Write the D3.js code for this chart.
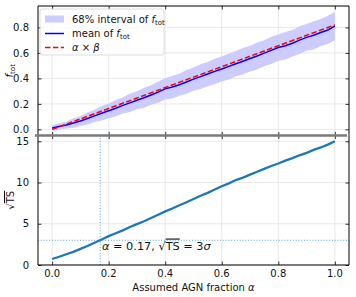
<!DOCTYPE html>
<html>
<head>
<meta charset="utf-8">
<script src="https://cdn.jsdelivr.net/npm/d3@7"></script>
<style>
  body { margin: 0; background: #fff; }
  svg { display: block; font-family: "DejaVu Sans", sans-serif; }
</style>
</head>
<body>
<div id="chart"></div>
<script>
"use strict";

// assumed AGN fraction alpha
const alphaVals = [0, 0.025, 0.05, 0.075, 0.1, 0.125, 0.15, 0.175, 0.2, 0.225, 0.25, 0.275, 0.3, 0.325, 0.35, 0.375,
  0.4, 0.425, 0.45, 0.475, 0.5, 0.525, 0.55, 0.575, 0.6, 0.625, 0.65, 0.675, 0.7, 0.725, 0.75, 0.775,
  0.8, 0.825, 0.85, 0.875, 0.9, 0.925, 0.95, 0.975, 1.0];
// mean of f_tot
const meanF = [0.010, 0.022, 0.034, 0.050, 0.066, 0.086, 0.106, 0.126, 0.146, 0.166, 0.188, 0.208, 0.228, 0.248, 0.270, 0.292,
  0.318, 0.332, 0.350, 0.372, 0.394, 0.414, 0.434, 0.455, 0.474, 0.494, 0.515, 0.535, 0.556, 0.576, 0.598, 0.620,
  0.642, 0.656, 0.676, 0.700, 0.722, 0.738, 0.760, 0.780, 0.810];
// 68% interval
const bandLo = [-0.010, -0.003, 0.006, 0.013, 0.027, 0.039, 0.057, 0.069, 0.088, 0.101, 0.124, 0.136, 0.157, 0.170, 0.193, 0.208,
  0.235, 0.243, 0.263, 0.279, 0.303, 0.317, 0.339, 0.355, 0.376, 0.392, 0.416, 0.431, 0.455, 0.470, 0.496, 0.513,
  0.539, 0.548, 0.572, 0.591, 0.617, 0.628, 0.654, 0.669, 0.700];
const bandHi = [0.030, 0.049, 0.062, 0.087, 0.104, 0.133, 0.154, 0.183, 0.204, 0.231, 0.252, 0.280, 0.299, 0.326, 0.347, 0.376,
  0.401, 0.421, 0.437, 0.465, 0.485, 0.511, 0.529, 0.555, 0.572, 0.596, 0.614, 0.639, 0.657, 0.682, 0.700, 0.727,
  0.745, 0.764, 0.780, 0.809, 0.827, 0.848, 0.866, 0.891, 0.920];
// alpha x beta
const lineAlpha = [0, 0.1, 0.2, 0.3, 0.4, 0.5, 0.6, 0.7, 0.8, 0.9, 1.0];
const alphaBeta = [0, 0.082, 0.164, 0.246, 0.328, 0.41, 0.492, 0.574, 0.656, 0.738, 0.82];
// sqrt(TS)
const sqrtTS = [0.73, 1.0, 1.3, 1.6, 1.95, 2.3, 2.7, 3.1, 3.5, 3.85, 4.2, 4.6, 4.95, 5.3, 5.7, 6.1,
  6.5, 6.85, 7.25, 7.6, 8.0, 8.4, 8.75, 9.15, 9.55, 9.9, 10.3, 10.6, 10.95, 11.3, 11.65, 12.0,
  12.3, 12.65, 12.95, 13.3, 13.6, 13.95, 14.25, 14.6, 15.0];

const xTicks = [0, 0.2, 0.4, 0.6, 0.8, 1.0];
const fTicks = [0, 0.2, 0.4, 0.6, 0.8];
const tsTicks = [0, 5, 10, 15];
const alphaCut = 0.17;
const tsCut = 3;

const width = 356, height = 297;
const L = 38, R = 349, topY0 = 6, midY = 135.5, botY1 = 265;

const svg = d3.select("#chart").append("svg")
  .attr("width", width).attr("height", height);

const x = d3.scaleLinear().domain([-0.05, 1.05]).range([L, R]);
const yF = d3.scaleLinear().domain([-0.048, 0.968]).range([midY, topY0]);
const yT = d3.scaleLinear().domain([0, 15.7]).range([botY1, midY]);

const gridCol = "#e3e3e3";

function panel(y, ticks, y0, y1) {
  const g = svg.append("g");
  // grid
  g.selectAll("line.gx").data(xTicks).enter().append("line")
    .attr("x1", d => x(d)).attr("x2", d => x(d))
    .attr("y1", y0).attr("y2", y1)
    .attr("stroke", gridCol).attr("stroke-width", 0.8);
  g.selectAll("line.gy").data(ticks).enter().append("line")
    .attr("x1", L).attr("x2", R)
    .attr("y1", d => y(d)).attr("y2", d => y(d))
    .attr("stroke", gridCol).attr("stroke-width", 0.8);
  return g;
}

function frame(y, ticks, fmt, y0, y1) {
  const g = svg.append("g");
  const yl = g.append("g").attr("transform", `translate(${L},0)`)
    .call(d3.axisLeft(y).tickValues(ticks).tickFormat(fmt).tickSizeInner(-3.5).tickSizeOuter(0).tickPadding(9));
  const yr = g.append("g").attr("transform", `translate(${R},0)`)
    .call(d3.axisRight(y).tickValues(ticks).tickFormat("").tickSizeInner(-3.5).tickSizeOuter(0));
  const xt = g.append("g").attr("transform", `translate(0,${y0})`)
    .call(d3.axisTop(x).tickValues(xTicks).tickFormat("").tickSizeInner(-3.5).tickSizeOuter(0));
  const xb = g.append("g").attr("transform", `translate(0,${y1})`)
    .call(d3.axisBottom(x).tickValues(xTicks).tickFormat("").tickSizeInner(-3.5).tickSizeOuter(0));
  [yl, yr, xt, xb].forEach(a => {
    a.select(".domain").remove();
    a.selectAll("line").attr("stroke", "#000").attr("stroke-width", 0.8);
    a.selectAll("text").attr("font-size", 10).attr("fill", "#111")
      .attr("font-family", "DejaVu Sans");
  });
  g.append("line").attr("x1", L).attr("x2", L).attr("y1", y0).attr("y2", y1).attr("stroke", "#000");
  g.append("line").attr("x1", R).attr("x2", R).attr("y1", y0).attr("y2", y1).attr("stroke", "#000");
  return g;
}

// ---- top panel
panel(yF, fTicks, topY0, midY);

svg.append("path")
  .datum(alphaVals.map((a, i) => [a, bandLo[i], bandHi[i]]))
  .attr("fill", "rgb(204,204,255)")
  .attr("d", d3.area().x(d => x(d[0])).y0(d => yF(d[1])).y1(d => yF(d[2])));

svg.append("path")
  .datum(alphaVals.map((a, i) => [a, meanF[i]]))
  .attr("fill", "none").attr("stroke", "#0000ff").attr("stroke-width", 1.5)
  .attr("d", d3.line().x(d => x(d[0])).y(d => yF(d[1])));

svg.append("path")
  .datum(lineAlpha.map((a, i) => [a, alphaBeta[i]]))
  .attr("fill", "none").attr("stroke", "#ff0000").attr("stroke-width", 1.5)
  .attr("stroke-dasharray", "5.5,2.4")
  .attr("d", d3.line().x(d => x(d[0])).y(d => yF(d[1])));

frame(yF, fTicks, d3.format(".1f"), topY0, midY);
svg.append("line").attr("x1", L).attr("x2", R).attr("y1", topY0).attr("y2", topY0).attr("stroke", "#000");

// legend
const leg = svg.append("g");
leg.append("rect").attr("x", 40).attr("y", 9).attr("width", 124).attr("height", 46).attr("rx", 2)
  .attr("fill", "#fff").attr("fill-opacity", 0.8).attr("stroke", "#d6d6d6").attr("stroke-width", 0.8);
leg.append("rect").attr("x", 45).attr("y", 15.5).attr("width", 19).attr("height", 7)
  .attr("fill", "rgb(204,204,255)");
leg.append("line").attr("x1", 45).attr("x2", 64).attr("y1", 33.5).attr("y2", 33.5)
  .attr("stroke", "#0000ff").attr("stroke-width", 1.5);
leg.append("line").attr("x1", 45).attr("x2", 64).attr("y1", 47.5).attr("y2", 47.5)
  .attr("stroke", "#ff0000").attr("stroke-width", 1.5).attr("stroke-dasharray", "5.5,2.4");

function ftot(t) {
  t.append("tspan").attr("font-style", "italic").text("f");
  t.append("tspan").attr("font-size", 7).attr("dy", 2).text("tot");
}
const lt1 = leg.append("text").attr("x", 72).attr("y", 23).attr("font-size", 10).attr("fill", "#111");
lt1.append("tspan").text("68% interval of ");
ftot(lt1);
const lt2 = leg.append("text").attr("x", 72).attr("y", 37).attr("font-size", 10).attr("fill", "#111");
lt2.append("tspan").text("mean of ");
ftot(lt2);
const lt3 = leg.append("text").attr("x", 72).attr("y", 51).attr("font-size", 10).attr("fill", "#111");
lt3.append("tspan").attr("font-style", "italic").text("α");
lt3.append("tspan").text(" × ");
lt3.append("tspan").attr("font-style", "italic").text("β");

// y label top
const yl1 = svg.append("text").attr("transform", `translate(13,${(topY0 + midY) / 2}) rotate(-90)`)
  .attr("text-anchor", "middle").attr("font-size", 10).attr("fill", "#111");
ftot(yl1);

// ---- bottom panel
panel(yT, tsTicks, midY, botY1);

svg.append("line")
  .attr("x1", x(alphaCut)).attr("x2", x(alphaCut)).attr("y1", yT(0)).attr("y2", midY)
  .attr("stroke", "#5a9fd4").attr("stroke-width", 1).attr("stroke-dasharray", "1,1.8");
svg.append("line")
  .attr("x1", L).attr("x2", R).attr("y1", yT(tsCut)).attr("y2", yT(tsCut))
  .attr("stroke", "#5a9fd4").attr("stroke-width", 1).attr("stroke-dasharray", "1,1.8");

svg.append("path")
  .datum(alphaVals.map((a, i) => [a, sqrtTS[i]]))
  .attr("fill", "none").attr("stroke", "#1f77b4").attr("stroke-width", 2.3)
  .attr("d", d3.line().x(d => x(d[0])).y(d => yT(d[1])));

frame(yT, tsTicks, d3.format("d"), midY, botY1);
svg.append("line").attr("x1", L).attr("x2", R).attr("y1", botY1).attr("y2", botY1).attr("stroke", "#000");

// shared divider
svg.append("line").attr("x1", 35).attr("x2", 347).attr("y1", midY).attr("y2", midY)
  .attr("stroke", "#7a7a7a").attr("stroke-width", 2.4);

// x tick labels
svg.append("g").selectAll("text").data(xTicks).enter().append("text")
  .attr("x", d => x(d)).attr("y", 277).attr("text-anchor", "middle")
  .attr("font-size", 10).attr("fill", "#111").text(d3.format(".1f"));

// x label
const xl = svg.append("text").attr("x", (L + R) / 2).attr("y", 291).attr("text-anchor", "middle")
  .attr("font-size", 10).attr("fill", "#111");
xl.append("tspan").text("Assumed AGN fraction ");
xl.append("tspan").attr("font-style", "italic").text("α");

// y label bottom
const yl2 = svg.append("text").attr("transform", `translate(14,${(midY + botY1) / 2}) rotate(-90)`)
  .attr("text-anchor", "middle").attr("font-size", 10).attr("fill", "#111");
yl2.append("tspan").text("√");
yl2.append("tspan").attr("text-decoration", "overline").text("TS");

// annotation
const ann = svg.append("text").attr("x", 102).attr("y", 249.5).attr("font-size", 11.3).attr("fill", "#111");
ann.append("tspan").attr("font-style", "italic").text("α");
ann.append("tspan").text(" = 0.17, √");
ann.append("tspan").attr("text-decoration", "overline").text("TS");
ann.append("tspan").text(" = 3");
ann.append("tspan").attr("font-style", "italic").text("σ");
</script>
</body>
</html>
